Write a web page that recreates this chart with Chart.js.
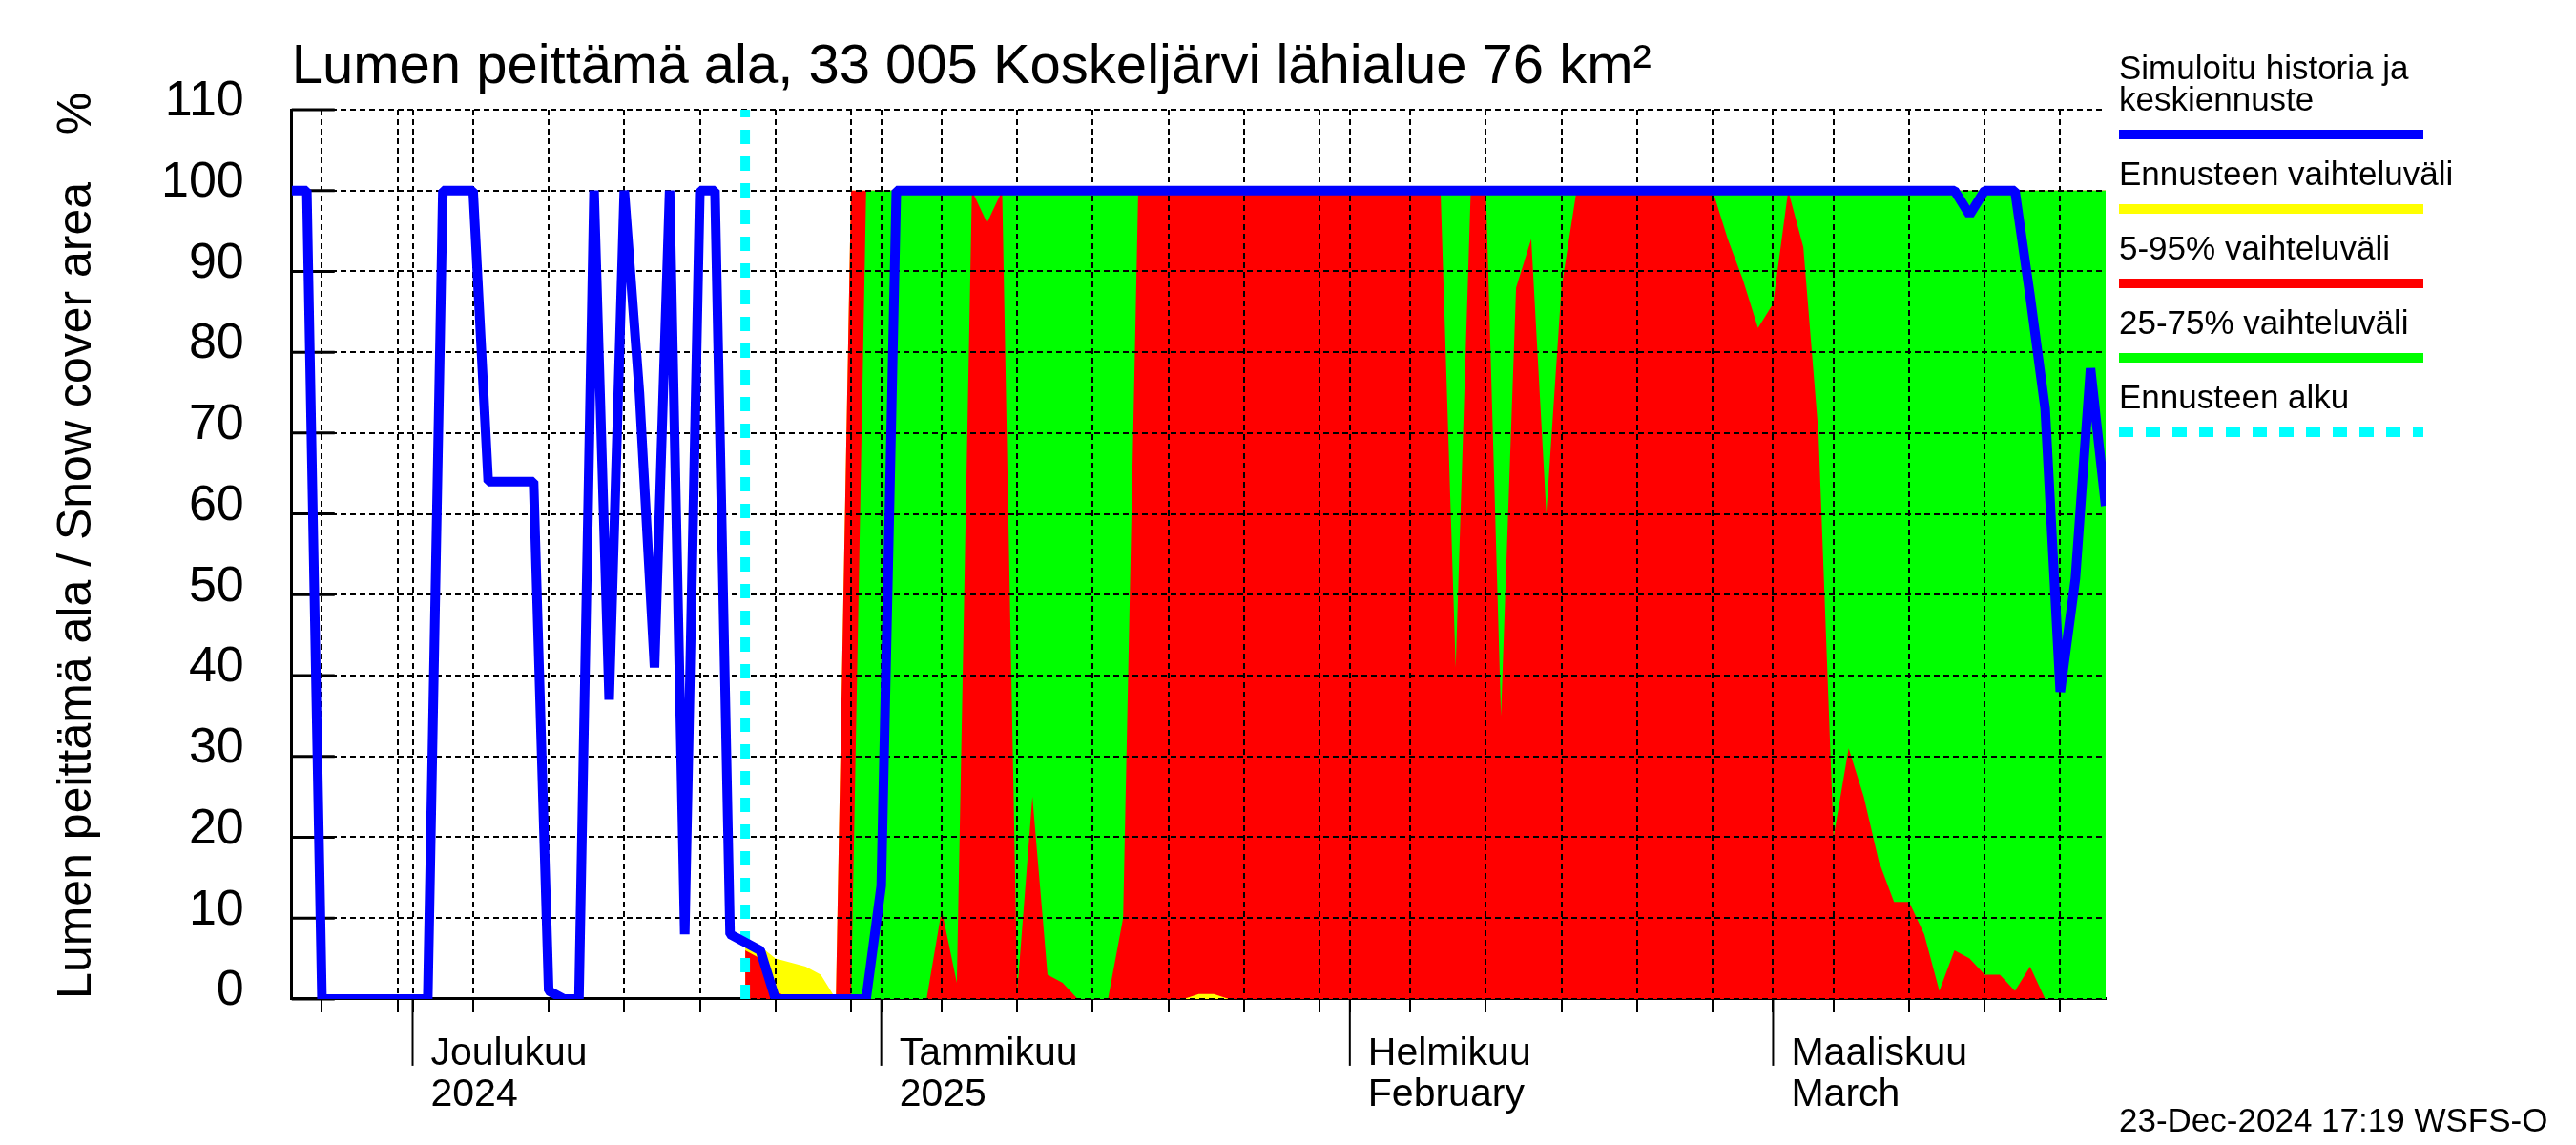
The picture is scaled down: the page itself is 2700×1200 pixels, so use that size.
<!DOCTYPE html>
<html lang="fi">
<head>
<meta charset="UTF-8">
<title>Lumen peittämä ala, 33 005 Koskeljärvi lähialue</title>
<script src="https://cdn.jsdelivr.net/npm/chart.js@4/dist/chart.umd.min.js"></script>
<style>
    html, body { margin: 0; padding: 0; background: #fff; }
    #wrap { width: 2700px; height: 1200px; }
</style>
</head>
<body>
<div id="wrap"><canvas id="chart"></canvas></div>
<script>
// x values are days counted from 23 Nov 2024 (day 0) to 23 Mar 2025 (day 120)
const titleText = 'Lumen peittämä ala, 33 005 Koskeljärvi lähialue 76 km²';
const yTitle = 'Lumen peittämä ala / Snow cover area';
const stampText = '23-Dec-2024 17:19 WSFS-O';

// dashed grid on the 5th, 10th ... 30th and the 1st of every month
const gridDays = [2, 7, 8, 12, 17, 22, 27, 32, 37, 39, 43, 48, 53, 58, 63, 68, 70, 74, 79, 84, 89, 94, 98, 102, 107, 112, 117];
const monthDays = [8, 39, 70, 98];
const monthLabels = [['Joulukuu', '2024'], ['Tammikuu', '2025'], ['Helmikuu', 'February'], ['Maaliskuu', 'March']];

const legendLabels = [
    ['Simuloitu historia ja', 'keskiennuste'],
    ['Ennusteen vaihteluväli'],
    ['5-95% vaihteluväli'],
    ['25-75% vaihteluväli'],
    ['Ennusteen alku']
];

const forecastStart = 30;

// simulated history + median forecast, day 0..120
const median = [
    100, 100, 0, 0, 0, 0, 0, 0, 0, 0,
    100, 100, 100, 64, 64, 64, 64, 1, 0, 0,
    100, 37, 100, 75, 41, 100, 8, 100, 100, 8,
    7, 6, 0, 0, 0, 0, 0, 0, 0, 14,
    100, 100, 100, 100, 100, 100, 100, 100, 100, 100,
    100, 100, 100, 100, 100, 100, 100, 100, 100, 100,
    100, 100, 100, 100, 100, 100, 100, 100, 100, 100,
    100, 100, 100, 100, 100, 100, 100, 100, 100, 100,
    100, 100, 100, 100, 100, 100, 100, 100, 100, 100,
    100, 100, 100, 100, 100, 100, 100, 100, 100, 100,
    100, 100, 100, 100, 100, 100, 100, 100, 100, 100,
    100, 97, 100, 100, 100, 87, 73, 38, 52, 78,
    61
];

// forecast bands, day 30..120
const bandMax = [
    7, 6.5, 5, 4.5, 4, 3, 0, 100, 100, 100,
    100, 100, 100, 100, 100, 100, 100, 100, 100, 100,
    100, 100, 100, 100, 100, 100, 100, 100, 100, 100,
    100, 100, 100, 100, 100, 100, 100, 100, 100, 100,
    100, 100, 100, 100, 100, 100, 100, 100, 100, 100,
    100, 100, 100, 100, 100, 100, 100, 100, 100, 100,
    100, 100, 100, 100, 100, 100, 100, 100, 100, 100,
    100, 100, 100, 100, 100, 100, 100, 100, 100, 100,
    100, 100, 100, 100, 100, 100, 100, 100, 100, 100,
    100
];
const bandMin = [
    0, 0, 0, 0, 0, 0, 0, 0, 0, 0,
    0, 0, 0, 0, 0, 0, 0, 0, 0, 0,
    0, 0, 0, 0, 0, 0, 0, 0, 0, 0,
    0, 0, 0, 0, 0, 0, 0, 0, 0, 0,
    0, 0, 0, 0, 0, 0, 0, 0, 0, 0,
    0, 0, 0, 0, 0, 0, 0, 0, 0, 0,
    0, 0, 0, 0, 0, 0, 0, 0, 0, 0,
    0, 0, 0, 0, 0, 0, 0, 0, 0, 0,
    0, 0, 0, 0, 0, 0, 0, 0, 0, 0,
    0
];
const p95 = [
    6, 5, 1, 0, 0, 0, 0, 100, 100, 100,
    100, 100, 100, 100, 100, 100, 100, 100, 100, 100,
    100, 100, 100, 100, 100, 100, 100, 100, 100, 100,
    100, 100, 100, 100, 100, 100, 100, 100, 100, 100,
    100, 100, 100, 100, 100, 100, 100, 100, 100, 100,
    100, 100, 100, 100, 100, 100, 100, 100, 100, 100,
    100, 100, 100, 100, 100, 100, 100, 100, 100, 100,
    100, 100, 100, 100, 100, 100, 100, 100, 100, 100,
    100, 100, 100, 100, 100, 100, 100, 100, 100, 100,
    100
];
const p5 = [
    0, 0, 0, 0, 0, 0, 0, 0, 0, 0,
    0, 0, 0, 0, 0, 0, 0, 0, 0, 0,
    0, 0, 0, 0, 0, 0, 0, 0, 0, 0,
    0.6, 0.6, 0, 0, 0, 0, 0, 0, 0, 0,
    0, 0, 0, 0, 0, 0, 0, 0, 0, 0,
    0, 0, 0, 0, 0, 0, 0, 0, 0, 0,
    0, 0, 0, 0, 0, 0, 0, 0, 0, 0,
    0, 0, 0, 0, 0, 0, 0, 0, 0, 0,
    0, 0, 0, 0, 0, 0, 0, 0, 0, 0,
    0
];
const p75 = [
    0, 0, 0, 0, 0, 0, 0, 0, 100, 100,
    100, 100, 100, 100, 100, 100, 100, 100, 100, 100,
    100, 100, 100, 100, 100, 100, 100, 100, 100, 100,
    100, 100, 100, 100, 100, 100, 100, 100, 100, 100,
    100, 100, 100, 100, 100, 100, 100, 100, 100, 100,
    100, 100, 100, 100, 100, 100, 100, 100, 100, 100,
    100, 100, 100, 100, 100, 100, 100, 100, 100, 100,
    100, 100, 100, 100, 100, 100, 100, 100, 100, 100,
    100, 100, 100, 100, 100, 100, 100, 100, 100, 100,
    100
];
const p25 = [
    0, 0, 0, 0, 0, 0, 0, 0, 0, 0,
    0, 0, 0, 11, 2, 100, 96, 100, 1, 25,
    3, 2, 0, 0, 0, 10, 100, 100, 100, 100,
    100, 100, 100, 100, 100, 100, 100, 100, 100, 100,
    100, 100, 100, 100, 100, 100, 100, 41, 100, 100,
    35, 88, 94, 60, 88, 100, 100, 100, 100, 100,
    100, 100, 100, 100, 100, 94, 89, 83, 86, 100,
    93, 70, 20, 31, 25, 17, 12, 12, 8, 1,
    6, 5, 3, 3, 1, 4, 0, 0, 0, 0,
    0
];

const hist = median.map((v, i) => ({ x: i, y: v }));
const band = arr => arr.map((v, i) => ({ x: forecastStart + i, y: v }));

Chart.defaults.font.family = '"Liberation Sans", Arial, sans-serif';
Chart.defaults.color = '#000';

const GREEN = 2;

const overlay = {
    id: 'overlay',
    afterDatasetDraw(chart, args) {
        // grid goes over the bands but under the median and forecast line
        if (args.index !== GREEN) return;
        const { ctx, chartArea, scales } = chart;
        scales.x.drawGrid(chartArea);
        scales.y.drawGrid(chartArea);
        ctx.save();
        ctx.strokeStyle = '#000';
        ctx.lineWidth = 3;
        scales.y.ticks.forEach(t => {
            const y = scales.y.getPixelForValue(t.value);
            ctx.beginPath();
            ctx.moveTo(chartArea.left, y);
            ctx.lineTo(chartArea.left + 45, y);
            ctx.stroke();
        });
        ctx.restore();
    },
    afterDraw(chart) {
        const { ctx, chartArea, scales } = chart;
        const ds = chart.data.datasets;
        ctx.save();

        // long month ticks
        ctx.strokeStyle = '#000';
        ctx.lineWidth = 2;
        monthDays.forEach(d => {
            const x = scales.x.getPixelForValue(d);
            ctx.beginPath();
            ctx.moveTo(x, chartArea.bottom);
            ctx.lineTo(x, chartArea.bottom + 70);
            ctx.stroke();
        });

        ctx.fillStyle = '#000';
        ctx.textAlign = 'left';
        ctx.font = '58px "Liberation Sans", Arial, sans-serif';
        ctx.textBaseline = 'alphabetic';
        ctx.fillText(titleText, chartArea.left, 87);

        // % on top of the axis title
        ctx.save();
        ctx.translate(81, chartArea.top + 4);
        ctx.rotate(-Math.PI / 2);
        ctx.font = '50px "Liberation Sans", Arial, sans-serif';
        ctx.textAlign = 'center';
        ctx.textBaseline = 'middle';
        ctx.fillText('%', 0, 0);
        ctx.restore();

        // legend
        const lx = chartArea.right + 14;
        const legendSets = [ds[0], ds[6], ds[4], ds[2], ds[1]];
        ctx.font = '35px "Liberation Sans", Arial, sans-serif';
        ctx.textBaseline = 'middle';
        legendLabels.forEach((lines, i) => {
            const ly = 141 + i * 78;
            lines.forEach((t, j) => {
                ctx.fillText(t, lx, ly - 35 - (lines.length - 1 - j) * 33);
            });
            const set = legendSets[i];
            ctx.save();
            ctx.strokeStyle = set.borderWidth ? set.borderColor : set.backgroundColor;
            ctx.lineWidth = 10;
            ctx.setLineDash(set.borderDash || []);
            ctx.beginPath();
            ctx.moveTo(lx, ly);
            ctx.lineTo(lx + 319, ly);
            ctx.stroke();
            ctx.restore();
        });

        ctx.fillText(stampText, lx, 1176);
        ctx.restore();
    }
};

new Chart(document.getElementById('chart'), {
    type: 'line',
    data: {
        datasets: [
            {
                label: 'median', data: hist, borderColor: '#0000ff', borderWidth: 10,
                borderJoinStyle: 'bevel', pointRadius: 0, fill: false, order: 0
            },
            {
                label: 'start', data: [{ x: forecastStart, y: 0 }, { x: forecastStart, y: 110 }],
                borderColor: '#00ffff', borderWidth: 10, borderDash: [15, 13], pointRadius: 0, fill: false, order: 1
            },
            {
                label: 'p75', data: band(p75), borderWidth: 0, backgroundColor: '#00ff00',
                pointRadius: 0, fill: 3, order: 2
            },
            { label: 'p25', data: band(p25), borderWidth: 0, pointRadius: 0, fill: false, order: 3 },
            {
                label: 'p95', data: band(p95), borderWidth: 0, backgroundColor: '#ff0000',
                pointRadius: 0, fill: 5, order: 4
            },
            { label: 'p5', data: band(p5), borderWidth: 0, pointRadius: 0, fill: false, order: 5 },
            {
                label: 'max', data: band(bandMax), borderWidth: 0, backgroundColor: '#ffff00',
                pointRadius: 0, fill: 7, order: 6
            },
            { label: 'min', data: band(bandMin), borderWidth: 0, pointRadius: 0, fill: false, order: 7 }
        ]
    },
    options: {
        responsive: true,
        maintainAspectRatio: false,
        animation: false,
        devicePixelRatio: 1,
        layout: { padding: { left: 47, right: 493, top: 115, bottom: 9 } },
        plugins: { legend: { display: false }, tooltip: { enabled: false } },
        scales: {
            x: {
                type: 'linear',
                min: 0,
                max: 120,
                afterBuildTicks: s => { s.ticks = gridDays.map(v => ({ value: v })); },
                grid: { color: '#000', lineWidth: 2, tickLength: 14, tickWidth: 2, tickColor: '#000', tickBorderDash: [] },
                border: { display: true, color: '#000', width: 3, dash: [6, 4] },
                ticks: {
                    autoSkip: false, maxRotation: 0, minRotation: 0, align: 'start',
                    labelOffset: 19, padding: 22, color: '#000',
                    font: { size: 41, lineHeight: 1.05 },
                    callback: v => {
                        const k = monthDays.indexOf(v);
                        return k < 0 ? '' : monthLabels[k];
                    }
                }
            },
            y: {
                min: 0,
                max: 110,
                ticks: { stepSize: 10, padding: 50, color: '#000', font: { size: 52 }, labelOffset: -8 },
                grid: { color: '#000', lineWidth: 2, drawTicks: false },
                border: { display: true, color: '#000', width: 3, dash: [6, 4] },
                title: {
                    display: true, text: yTitle, align: 'start', color: '#000',
                    font: { size: 50 }, padding: { top: 4, bottom: 8 }
                }
            }
        }
    },
    plugins: [overlay]
});
</script>
</body>
</html>
